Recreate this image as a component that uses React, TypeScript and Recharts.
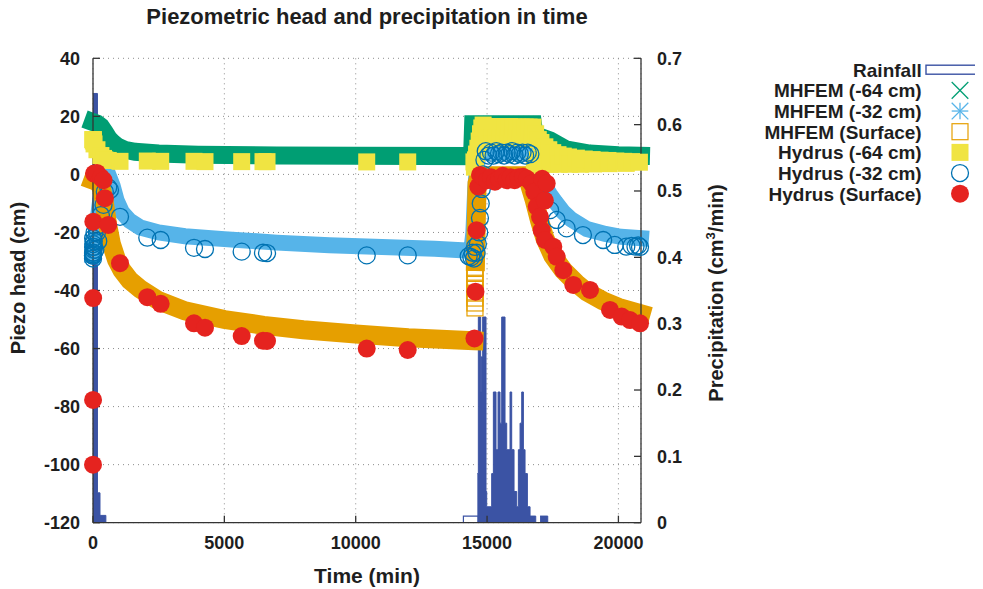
import React from "react";
import { Area, CartesianGrid, ComposedChart, Line, Scatter, XAxis, YAxis } from "recharts";

// axis ticks
const timeTicks = [0, 5000, 10000, 15000, 20000];
const headTicks = [-120, -100, -80, -60, -40, -20, 0, 20, 40];
const rainTicks = [0, 0.1, 0.2, 0.3, 0.4, 0.5, 0.6, 0.7];

// rainfall (cm3/min), step values [time, rate]
const rainfall: [number, number | null][] = [
	[0, 0.647], [170, 0.045], [266, 0.011], [490, 0], [491, null],
	[14630, 0.074], [14668, 0.31], [14757, 0.197], [14783, 0.25], [14833, 0.31],
	[14960, 0.047], [14986, 0.024], [15176, 0.074], [15240, 0.197], [15341, 0.11],
	[15418, 0.197], [15494, 0.15], [15557, 0.31], [15684, 0.15], [15748, 0.11],
	[15875, 0.197], [15938, 0.11], [16027, 0.047], [16129, 0.024], [16192, 0.11],
	[16256, 0.15], [16319, 0.197], [16383, 0.11], [16446, 0.074], [16535, 0.024],
	[16637, 0.01], [16853, 0], [16854, null], [17018, 0.01], [17310, 0],
];
const rainfallLow: [number, number][] = [[14100, 0], [14100, 0.01], [14668, 0.01], [14668, 0]];

// MHFEM results (cm)
const mhfem64: [number, number][] = [
	[0, 18], [150, 17.5], [300, 16.5], [450, 14.5], [600, 12.3], [760, 10.8], [950, 9.5],
	[1200, 8.5], [1600, 7.8], [2500, 7.2], [4000, 6.8], [7000, 6.5], [10000, 6.4], [14430, 6.3],
	[14470, 17.3], [16750, 17.3], [16800, 14], [17000, 13], [17400, 11.7], [18000, 8.6],
	[18900, 7.2], [20000, 6.6], [20860, 6.4],
];
const mhfem32: [number, number][] = [
	[0, -28], [100, -22], [200, -14], [300, -7], [450, -2], [600, -0.5], [750, -4],
	[900, -9], [1100, -13], [1400, -16], [1800, -18.3], [2500, -20], [3500, -21.3],
	[5000, -22.3], [7000, -23.5], [9000, -24.4], [11000, -25], [13000, -25.6],
	[14400, -26.3], [14480, -20], [14550, -5], [14650, 6], [14800, 7.8], [16700, 7.8],
	[16850, 4], [17000, 0], [17200, -4], [17400, -7], [17600, -9.5], [17900, -13],
	[18200, -15.5], [18800, -18.8], [19500, -20.5], [20100, -21.5], [20860, -22],
];
const mhfemSurface: [number, number | null][] = [
	[0, -2], [150, -2.5], [300, -4], [420, -9], [550, -17], [700, -24], [900, -29.5],
	[1100, -33], [1400, -36.5], [1800, -39.5], [2500, -43.5], [3500, -47], [5000, -50],
	[6500, -52], [8000, -53.5], [10000, -55], [12000, -56.3], [14500, -57.3], [14510, null],
	[14560, -30], [14620, -3], [14700, -0.5], [16450, -0.5], [16600, -3], [16800, -9],
	[17000, -16], [17200, -22], [17500, -28], [17900, -33], [18400, -37.5], [18800, -40.5],
	[19400, -43.5], [20000, -45.8], [20860, -48],
];
const mhfemSurfaceRise: [number, number][] = [
	[14540, -46], [14540, -44.3], [14540, -42.6], [14540, -40.9], [14540, -39.2],
	[14540, -37.5], [14540, -35.8], [14540, -34.1], [14540, -32.4],
];

// Hydrus results (cm)
const hydrus64: [number, number][] = [
	[0, 12], [3, 12], [6, 12], [12, 11.5], [40, 10.5], [150, 8.5], [300, 6.5], [400, 5.5],
	[450, 5], [580, 4.8], [1028, 4.5], [2067, 4.6], [2577, 4.5], [3845, 4.5], [4263, 4.4],
	[5660, 4.4], [6471, 4.4], [6624, 4.4], [10419, 4.3], [11980, 4.3],
	[14500, 4.3], [14520, 2.5], [14560, 5], [14600, 7], [14650, 9], [14700, 11.5], [14750, 14],
	[14800, 16], [14850, 17], [14950, 16.5], [15000, 12.5], [15100, 16.5], [15200, 12.5],
	[15250, 16.5], [15350, 12.5], [15400, 16.5], [15500, 12.5], [15550, 16.5], [15650, 12.5],
	[15700, 16.5], [15800, 12.5], [15850, 16.5], [15950, 12.5], [16000, 16.3], [16100, 12.5],
	[16150, 16.3], [16250, 12.5], [16300, 16.3], [16400, 12.5], [16450, 16.3], [16550, 12.5],
	[16600, 16.3], [16700, 12.5], [16750, 16.3], [16800, 3], [16850, 14], [16900, 5],
	[16950, 12], [17050, 11], [17100, 3.5], [17200, 9.5], [17350, 8.5], [17400, 3.5],
	[17500, 7.5], [17700, 6.8], [17750, 3.5], [17900, 6.3], [18100, 6], [18150, 3.5],
	[18400, 5.6], [18550, 3.5], [18700, 5.3], [19000, 5.1], [19050, 3.6], [19300, 4.9],
	[19600, 4.8], [19650, 3.7], [19900, 4.6], [20200, 4.5], [20300, 3.8], [20500, 4.4],
	[20800, 4.2],
];
const hydrus32: [number, number][] = [
	[0, -28], [1, -29], [2, -27], [3, -28], [4, -25], [5, -22], [6, -27.5], [8, -24],
	[12, -27], [20, -26], [30, -23], [40, -25], [60, -20], [90, -26], [120, -18],
	[150, -20], [200, -23], [300, -14], [400, -10.5], [450, -6], [580, -4.5], [647, -5.4],
	[1028, -14.6], [2067, -21.8], [2577, -22.6], [3845, -25.3], [4263, -25.7], [5660, -26.6],
	[6471, -27], [6624, -27.1], [10419, -27.9], [11980, -27.9], [14300, -28.2], [14400, -28.5],
	[14450, -27], [14500, -29], [14540, -25], [14600, -27], [14650, -24], [14700, -20],
	[14730, -15], [14760, -10], [14800, -5], [14850, 0], [14900, 5], [14950, 8], [15050, 6.5],
	[15150, 7.5], [15250, 6.5], [15350, 8], [15450, 7], [15550, 7.5], [15650, 6.5],
	[15750, 7.5], [15850, 7], [15950, 8], [16050, 6.5], [16150, 7.5], [16250, 7], [16350, 7.5],
	[16450, 6.5], [16550, 7.5], [16650, 7], [16900, -3], [17150, -8.8], [17400, -12.3],
	[17650, -15.7], [18030, -18.6], [18650, -20.9], [19420, -22.6], [19860, -24.3],
	[20300, -24.9], [20500, -24.6], [20650, -24.9], [20750, -24.5], [20823, -25],
];
const hydrusSurface: [number, number][] = [
	[0, -100], [3, -77.7], [6, -42.6], [12, -16.3], [40, 0.3], [150, 0.5], [300, -1],
	[400, -2], [450, -8.2], [580, -17.4], [1028, -30.6], [2067, -42.3], [2577, -44.6],
	[3845, -51.3], [4263, -52.8], [5660, -55.7], [6471, -57.3], [6624, -57.4], [10419, -60],
	[11980, -60.5], [14520, -56.5], [14560, -40.4], [14600, -19.2], [14667, -4.2],
	[14731, -0.2], [14850, -1], [15000, -2], [15150, -1], [15300, -2.5], [15450, -1.5],
	[15600, -0.5], [15750, -2], [15900, -1], [16050, -2], [16200, -1], [16368, -0.8],
	[16520, -1.5], [16700, -3.1], [16800, -6], [16890, -11.1], [17016, -14.6], [17080, -19.2],
	[17100, -1.5], [17200, -9], [17206, -22.6], [17270, -3.1], [17522, -24.9], [17651, -28.4],
	[17903, -33], [18283, -38.1], [18919, -39.8], [19680, -46.7], [20125, -49], [20442, -50.2],
	[20823, -51.3],
];

const W = 967;
const H = 573;
const FONT = '"Liberation Sans", Arial, Helvetica, sans-serif';
const INK = "#1e1e1e";
const C_RAIN = "#3b53a4";
const C_GREEN = "#009e73";
const C_LBLUE = "#56b4e9";
const C_ORANGE = "#e69f00";
const C_YELLOW = "#f0e442";
const C_BLUE = "#0072b2";
const C_RED = "#e5231f";

const toH = (a: [number, number | null][]) => a.map(([t, h]) => ({ t, h }));
const toR = (a: [number, number | null][]) => a.map(([t, r]) => ({ t, r }));

const tickStyle = { fontSize: 18, fontWeight: 700, fill: INK, fontFamily: FONT };
const axisLine = { stroke: "#333", strokeWidth: 1.3 };

const OpenCircle = (p: any) => (
	<circle cx={p.cx} cy={p.cy} r={8.5} fill="none" stroke={C_BLUE} strokeWidth={1.3} />
);
const RedDot = (p: any) => <circle cx={p.cx} cy={p.cy} r={9} fill={C_RED} />;
const YellowSquare = (p: any) => (
	<rect x={p.cx - 8.5} y={p.cy - 8.5} width={17} height={17} fill={C_YELLOW} />
);
const OpenSquare = (p: any) => (
	<rect x={p.cx - 8} y={p.cy - 8} width={16} height={16} fill="none" stroke={C_ORANGE} strokeWidth={1.2} />
);

const legendRows = [
	"Rainfall",
	"MHFEM (-64 cm)",
	"MHFEM (-32 cm)",
	"MHFEM (Surface)",
	"Hydrus (-64 cm)",
	"Hydrus (-32 cm)",
	"Hydrus (Surface)",
];

const LegendSymbol = ({ i, x, y }: { i: number; x: number; y: number }) => {
	const s = 8.3;
	switch (i) {
		case 0:
			return <rect x={x - 34} y={y - 4.5} width={60} height={9} fill="none" stroke={C_RAIN} strokeWidth={1.4} />;
		case 1:
			return (
				<g stroke={C_GREEN} strokeWidth={1.3}>
					<line x1={x - s} y1={y - s} x2={x + s} y2={y + s} />
					<line x1={x - s} y1={y + s} x2={x + s} y2={y - s} />
				</g>
			);
		case 2:
			return (
				<g stroke={C_LBLUE} strokeWidth={1.3}>
					<line x1={x - s} y1={y - s} x2={x + s} y2={y + s} />
					<line x1={x - s} y1={y + s} x2={x + s} y2={y - s} />
					<line x1={x - s} y1={y} x2={x + s} y2={y} />
					<line x1={x} y1={y - s} x2={x} y2={y + s} />
				</g>
			);
		case 3:
			return <OpenSquare cx={x} cy={y} />;
		case 4:
			return <YellowSquare cx={x} cy={y} />;
		case 5:
			return <OpenCircle cx={x} cy={y} />;
		default:
			return <RedDot cx={x} cy={y} />;
	}
};

export default function App() {
	return (
		<div style={{ position: "relative", width: W, height: H + 8, fontFamily: FONT }}>
			<ComposedChart width={W} height={H} margin={{ top: 50.3, right: 274, bottom: 18.3, left: 25 }}>
				<CartesianGrid xAxisId="x" yAxisId="left" stroke="#8c8c8c" strokeDasharray="1 4" />
				<XAxis
					xAxisId="x"
					dataKey="t"
					type="number"
					domain={[0, 20860]}
					ticks={timeTicks}
					height={40}
					tick={tickStyle}
					tickSize={-7}
					tickMargin={21}
					axisLine={axisLine}
					tickLine={axisLine}
				/>
				<XAxis
					xAxisId="top"
					orientation="top"
					type="number"
					domain={[0, 20860]}
					ticks={timeTicks}
					height={0}
					tick={false}
					tickSize={-7}
					axisLine={axisLine}
					tickLine={axisLine}
				/>
				<YAxis
					yAxisId="left"
					dataKey="h"
					type="number"
					domain={[-120, 40]}
					ticks={headTicks}
					width={60}
					tick={tickStyle}
					tickSize={-7}
					tickMargin={20}
					axisLine={axisLine}
					tickLine={axisLine}
				/>
				<YAxis
					yAxisId="right"
					orientation="right"
					dataKey="r"
					type="number"
					domain={[0, 0.7]}
					ticks={rainTicks}
					width={60}
					tick={tickStyle}
					tickFormatter={(v: number) => (v === 0 ? "0" : v.toFixed(1))}
					tickSize={-7}
					tickMargin={23}
					axisLine={axisLine}
					tickLine={axisLine}
				/>

				<Area
					xAxisId="x"
					yAxisId="right"
					data={toR(rainfall)}
					dataKey="r"
					type="stepAfter"
					fill={C_RAIN}
					fillOpacity={1}
					stroke={C_RAIN}
					strokeWidth={1}
					dot={false}
					activeDot={false}
					isAnimationActive={false}
				/>
				<Line
					xAxisId="x"
					yAxisId="right"
					data={toR(rainfallLow)}
					dataKey="r"
					type="linear"
					stroke={C_RAIN}
					strokeWidth={1.2}
					dot={false}
					activeDot={false}
					isAnimationActive={false}
				/>

				<Line xAxisId="x" yAxisId="left" data={toH(mhfem64)} dataKey="h" type="linear" stroke={C_GREEN} strokeWidth={18} strokeLinecap="square" dot={false} activeDot={false} isAnimationActive={false} />
				<Line xAxisId="x" yAxisId="left" data={toH(mhfem32)} dataKey="h" type="linear" stroke={C_LBLUE} strokeWidth={16} strokeLinecap="square" dot={false} activeDot={false} isAnimationActive={false} />
				<Line xAxisId="x" yAxisId="left" data={toH(mhfemSurface)} dataKey="h" type="linear" stroke={C_ORANGE} strokeWidth={19} strokeLinecap="square" dot={false} activeDot={false} isAnimationActive={false} />
				<Scatter xAxisId="x" yAxisId="left" data={toH(mhfemSurfaceRise)} dataKey="h" shape={OpenSquare} isAnimationActive={false} />

				<Scatter xAxisId="x" yAxisId="left" data={toH(hydrus64)} dataKey="h" shape={YellowSquare} isAnimationActive={false} />
				<Scatter xAxisId="x" yAxisId="left" data={toH(hydrus32)} dataKey="h" shape={OpenCircle} isAnimationActive={false} />
				<Scatter xAxisId="x" yAxisId="left" data={toH(hydrusSurface)} dataKey="h" shape={RedDot} isAnimationActive={false} />
			</ComposedChart>

			<svg
				width={W}
				height={H + 8}
				style={{ position: "absolute", left: 0, top: 0, pointerEvents: "none", overflow: "visible" }}
				fontFamily={FONT}
				fontWeight={700}
				fill={INK}
			>
				<text x={359} y={16} fontSize={22} textAnchor="middle">
					Piezometric head and precipitation in time
				</text>
				<text x={359} y={575} fontSize={21} textAnchor="middle">
					Time (min)
				</text>
				<text transform="translate(17 270) rotate(-90)" fontSize={20} textAnchor="middle">
					Piezo head (cm)
				</text>
				<text transform="translate(715 285) rotate(-90)" fontSize={20} textAnchor="middle">
					Precipitation (cm<tspan fontSize={13} dy={-8}>3</tspan>
					<tspan dy={8}>/min)</tspan>
				</text>
				{legendRows.map((label, i) => {
					const base = 68.7 + i * 20.67;
					return (
						<g key={label}>
							<text x={913.7} y={base} fontSize={19} textAnchor="end">
								{label}
							</text>
							<LegendSymbol i={i} x={952} y={base - 7} />
						</g>
					);
				})}
			</svg>
		</div>
	);
}
